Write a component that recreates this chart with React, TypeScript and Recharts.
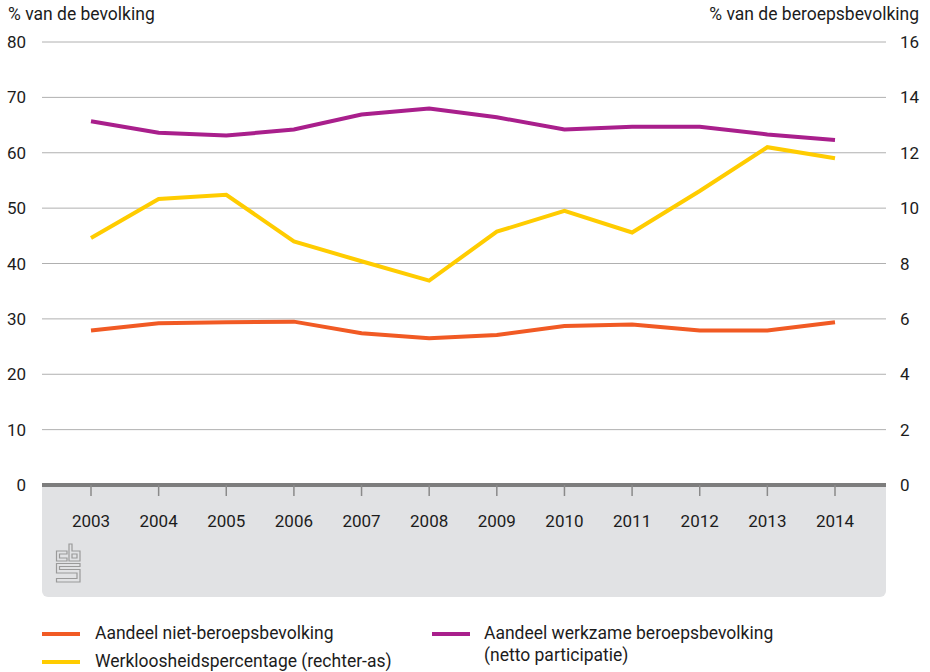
import React from 'react';
import { LineChart, Line, XAxis, YAxis, CartesianGrid } from 'recharts';

const years = ['2003', '2004', '2005', '2006', '2007', '2008', '2009', '2010', '2011', '2012', '2013', '2014'];
const nietBeroeps = [27.9, 29.2, 29.4, 29.5, 27.4, 26.5, 27.1, 28.7, 29.0, 27.9, 27.9, 29.4];
const werkzaam = [65.7, 63.6, 63.1, 64.2, 66.9, 68.0, 66.4, 64.2, 64.7, 64.7, 63.3, 62.3];
const werkloos = [8.92, 10.33, 10.48, 8.8, 8.08, 7.38, 9.15, 9.9, 9.12, 10.62, 12.2, 11.8];
const leftTicks = [0, 10, 20, 30, 40, 50, 60, 70, 80];
const rightTicks = [0, 2, 4, 6, 8, 10, 12, 14, 16];

const ORANGE = '#f15a24';
const PURPLE = '#a91f8c';
const YELLOW = '#ffcc00';
const FONT = 'Roboto, "Noto Sans", sans-serif';
const TEXT = '#1c1c1c';

const data = years.map((y, i) => ({
  year: y,
  niet: nietBeroeps[i],
  werkzaam: werkzaam[i],
  werkloos: werkloos[i],
}));

function Swatch({ color, x, y }: { color: string; x: number; y: number }) {
  return <div style={{ position: 'absolute', left: x, top: y - 2, width: 38, height: 4, background: color }} />;
}

function Label({ x, y, text }: { x: number; y: number; text: string }) {
  return (
    <div style={{ position: 'absolute', left: x, top: y - 11, fontSize: 17.5, lineHeight: '22px', color: TEXT, whiteSpace: 'nowrap' }}>
      {text}
    </div>
  );
}

export default function App() {
  return (
    <div style={{ position: 'absolute', left: 0, top: 0, width: 930, height: 672, background: '#fff', fontFamily: FONT }}>
      <div style={{ position: 'absolute', left: 42, top: 486, width: 844, height: 111, background: '#e1e2e4', borderBottomLeftRadius: 6, borderBottomRightRadius: 6 }} />
      <svg style={{ position: 'absolute', left: 0, top: 0 }} width={120} height={600}>
        <g fill="none" stroke="#9a9a9a" strokeWidth={1.2}>
          <path d="M67,551 H56.5 V561 H67 V558 H59.5 V554 H67 Z" />
          <path d="M69,544 H72 V551 H80 V561 H69 Z M72,554 H77 V558 H72 Z" />
          <path d="M80,563.5 H56.5 V573 H77 V578.5 H56.5 V582 H80 V569.5 H59.5 V566.5 H80 Z" />
        </g>
      </svg>
      <div style={{ position: 'absolute', left: 0, top: 0 }}>
        <LineChart width={930} height={600} data={data} margin={{ top: 42, right: 0, left: 0, bottom: 85 }}>
          <CartesianGrid horizontal vertical={false} stroke="#b0b0b0" strokeWidth={1} yAxisId="left" />
          <XAxis
            dataKey="year"
            height={30}
            padding={{ left: 49, right: 51 }}
            axisLine={{ stroke: '#7d7d7d', strokeWidth: 4 }}
            tickLine={{ stroke: '#8a8a8a', strokeWidth: 1.5 }}
            tickSize={11}
            tickMargin={19}
            tick={{ fill: TEXT, fontSize: 17, fontFamily: FONT }}
            interval={0}
          />
          <YAxis
            yAxisId="left"
            width={42}
            domain={[0, 80]}
            ticks={leftTicks}
            interval={0}
            axisLine={false}
            tickLine={false}
            tickSize={0}
            tickMargin={16}
            tick={{ fill: TEXT, fontSize: 17, fontFamily: FONT }}
          />
          <YAxis
            yAxisId="right"
            orientation="right"
            width={44}
            domain={[0, 16]}
            ticks={rightTicks}
            interval={0}
            axisLine={false}
            tickLine={false}
            tickSize={0}
            tickMargin={14}
            tick={{ fill: TEXT, fontSize: 17, fontFamily: FONT }}
          />
          <Line yAxisId="left" dataKey="niet" stroke={ORANGE} strokeWidth={4} dot={false} isAnimationActive={false} />
          <Line yAxisId="left" dataKey="werkzaam" stroke={PURPLE} strokeWidth={4} dot={false} isAnimationActive={false} />
          <Line yAxisId="right" dataKey="werkloos" stroke={YELLOW} strokeWidth={4} dot={false} isAnimationActive={false} />
        </LineChart>
      </div>
      <div style={{ position: 'absolute', left: 8, top: 4, fontSize: 17.5, color: TEXT }}>% van de bevolking</div>
      <div style={{ position: 'absolute', right: 11, top: 4, fontSize: 17.5, color: TEXT }}>% van de beroepsbevolking</div>

      <Swatch color={ORANGE} x={42} y={634} />
      <Label x={95} y={633} text="Aandeel niet-beroepsbevolking" />
      <Swatch color={YELLOW} x={42} y={662} />
      <Label x={95} y={661} text="Werkloosheidspercentage (rechter-as)" />
      <Swatch color={PURPLE} x={432} y={634} />
      <Label x={484} y={633} text="Aandeel werkzame beroepsbevolking" />
      <Label x={484} y={655} text="(netto participatie)" />
    </div>
  );
}
